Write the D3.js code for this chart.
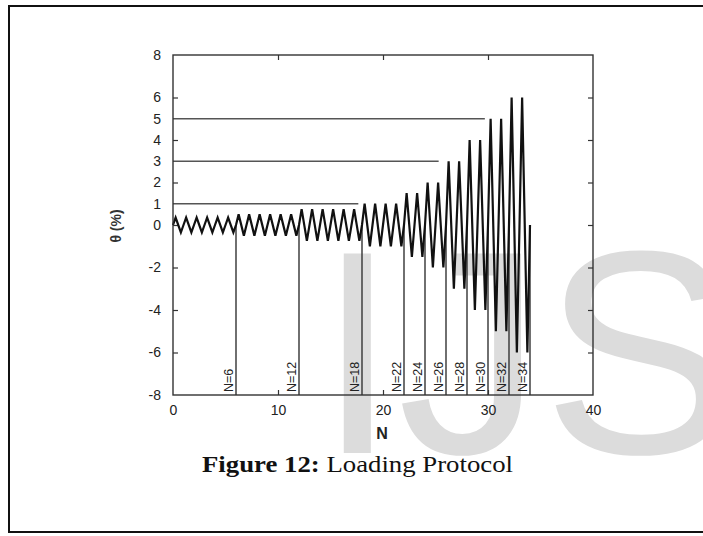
<!DOCTYPE html>
<html>
<head>
<meta charset="utf-8">
<script src="https://cdn.jsdelivr.net/npm/d3@7"></script>
<style>
	body { margin: 0; background: #fff; }
	svg { display: block; }
	.tick text { font-family: 'Liberation Sans', Arial, sans-serif; font-size: 14px; fill: #222; }
	.tick line { stroke: #333; stroke-width: 1.2; }
</style>
</head>
<body>
<svg id="chart" width="703" height="536"></svg>
<script>
/* global d3 */

// amplitude (θ %) of each loading cycle, one value per cycle N = 1..34
const cycleAmps = [
	0.35, 0.35, 0.35, 0.35, 0.35, 0.35,
	0.5, 0.5, 0.5, 0.5, 0.5, 0.5,
	0.75, 0.75, 0.75, 0.75, 0.75, 0.75,
	1, 1, 1, 1,
	1.5, 1.5,
	2, 2,
	3, 3,
	4, 4,
	5, 5,
	6, 6,
];

// vertical markers (cumulative cycle count)
const markerN = [6, 12, 18, 22, 24, 26, 28, 30, 32, 34];

// horizontal reference levels and where they stop
const refLevels = [1, 3, 5];
const refEnds = [17.65, 25.3, 29.7];

const yTickLabels = [8, 6, 5, 4, 3, 2, 1, 0, -2, -4, -6, -8];
const yTickMarks = [6, 4, 2, 0, -2, -4, -6];
const xTicks = [0, 10, 20, 30, 40];

const sansFont = "'Liberation Sans', Arial, sans-serif";
const plainNum = d => String(d);   // keep the ASCII hyphen as minus sign

const svg = d3.select('#chart');

// outer page border
svg.append('path')
	.attr('d', 'M710,6 H9 V532 H710')
	.attr('fill', 'none')
	.attr('stroke', '#111')
	.attr('stroke-width', 2);

// watermark
svg.append('text')
	.attr('x', 317)
	.attr('y', 453)
	.attr('font-family', sansFont)
	.attr('font-size', 290)
	.attr('fill', '#dcdcdc')
	.text('IJSER');

const x = d3.scaleLinear().domain([0, 40]).range([173, 593]);
const y = d3.scaleLinear().domain([-8, 8]).range([395, 55]);

// axes, ticks pointing inwards
svg.append('g')
	.attr('transform', `translate(${x(0)},0)`)
	.call(d3.axisLeft(y).tickValues(yTickLabels).tickSize(-5).tickPadding(12).tickFormat(plainNum))
	.attr('font-family', sansFont)
	.call(g => g.select('.domain').remove())
	.call(g => g.selectAll('.tick line').filter(d => !yTickMarks.includes(d)).remove());

svg.append('g')
	.attr('transform', `translate(${x(40)},0)`)
	.call(d3.axisRight(y).tickValues(yTickMarks).tickSize(-5).tickFormat(''))
	.call(g => g.select('.domain').remove());

svg.append('g')
	.attr('transform', `translate(0,${y(-8)})`)
	.call(d3.axisBottom(x).tickValues(xTicks).tickSize(-5).tickPadding(10).tickFormat(plainNum))
	.attr('font-family', sansFont)
	.call(g => g.select('.domain').remove())
	.call(g => g.selectAll('.tick line').filter(d => d === 0 || d === 40).remove());

svg.append('g')
	.attr('transform', `translate(0,${y(8)})`)
	.call(d3.axisTop(x).tickValues(xTicks.slice(1, -1)).tickSize(-5).tickFormat(''))
	.call(g => g.select('.domain').remove());

// reference lines
svg.append('g')
	.selectAll('line')
	.data(refLevels)
	.enter().append('line')
	.attr('x1', x(0))
	.attr('x2', (d, i) => x(refEnds[i]))
	.attr('y1', d => y(d))
	.attr('y2', d => y(d))
	.attr('stroke', '#555')
	.attr('stroke-width', 1.6);

// vertical markers
svg.append('g')
	.selectAll('line')
	.data(markerN)
	.enter().append('line')
	.attr('x1', d => x(d))
	.attr('x2', d => x(d))
	.attr('y1', y(-8))
	.attr('y2', y(0))
	.attr('stroke', '#333')
	.attr('stroke-width', 1.4);

svg.append('g')
	.selectAll('text')
	.data(markerN)
	.enter().append('text')
	.attr('transform', d => `translate(${x(d) - 3},${y(-8) - 3}) rotate(-90)`)
	.attr('font-family', sansFont)
	.attr('font-size', 12.5)
	.attr('fill', '#222')
	.text(d => `N=${d}`);

// loading history: each cycle 0 -> +A -> -A -> 0
const pts = [[0, 0]];
cycleAmps.forEach((a, i) => {
	pts.push([i + 0.25, a], [i + 0.75, -a], [i + 1, 0]);
});

svg.append('path')
	.datum(pts)
	.attr('fill', 'none')
	.attr('stroke', '#111')
	.attr('stroke-width', 2.2)
	.attr('stroke-linejoin', 'miter')
	.attr('d', d3.line().x(d => x(d[0])).y(d => y(d[1])));

// plot frame
svg.append('rect')
	.attr('x', x(0))
	.attr('y', y(8))
	.attr('width', x(40) - x(0))
	.attr('height', y(-8) - y(8))
	.attr('fill', 'none')
	.attr('stroke', '#333')
	.attr('stroke-width', 1.4);

// axis titles
svg.append('text')
	.attr('x', x(20) - 1)
	.attr('y', 439)
	.attr('text-anchor', 'middle')
	.attr('font-family', sansFont)
	.attr('font-weight', 'bold')
	.attr('font-size', 16)
	.attr('fill', '#222')
	.text('N');

svg.append('text')
	.attr('transform', 'translate(121,226) rotate(-90)')
	.attr('text-anchor', 'middle')
	.attr('font-family', sansFont)
	.attr('font-weight', 'bold')
	.attr('font-size', 14)
	.attr('fill', '#333')
	.text('θ (%)');

// caption
const caption = svg.append('text')
	.attr('x', 202)
	.attr('y', 472)
	.attr('font-family', "'Liberation Serif', 'Times New Roman', serif")
	.attr('font-size', 23.5)
	.attr('fill', '#111')
	.attr('textLength', 311)
	.attr('lengthAdjust', 'spacingAndGlyphs');

caption.append('tspan').attr('font-weight', 'bold').text('Figure 12:');
caption.append('tspan').text(' Loading Protocol');
</script>
</body>
</html>
